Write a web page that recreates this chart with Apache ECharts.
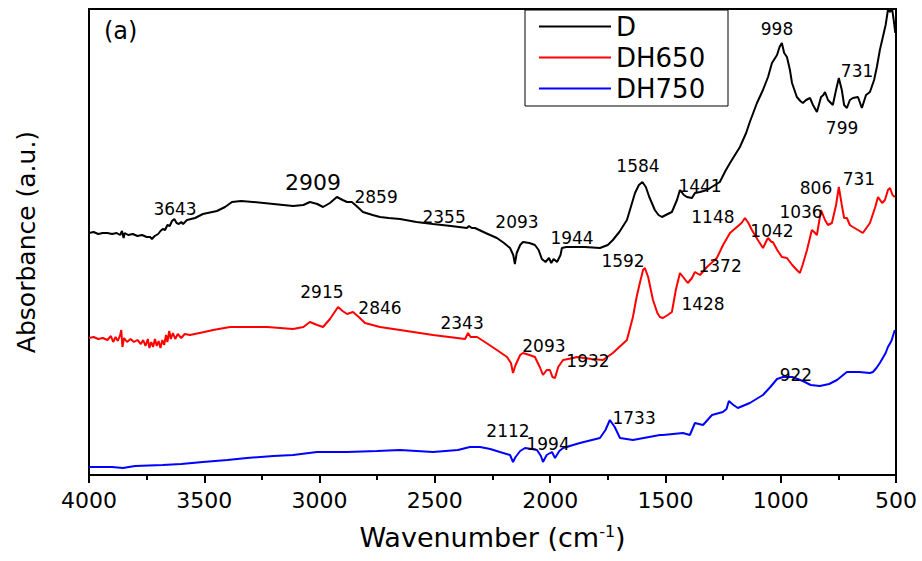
<!DOCTYPE html>
<html>
<head>
<meta charset="utf-8">
<script src="https://cdn.jsdelivr.net/npm/echarts@6/dist/echarts.min.js"></script>
<style>
  html, body { margin: 0; padding: 0; background: #fff; }
  #chart { width: 922px; height: 561px; }
</style>
</head>
<body>
<div id="chart"></div>
<script>
// FTIR spectra: [wavenumber (cm-1), absorbance (a.u.)]
const seriesNames = ['D', 'DH650', 'DH750'];
const seriesColors = ['#000000', '#ff0000', '#0000ff'];

const spectrumD = [
  [4000,2.42],[3980,2.43],[3960,2.41],[3940,2.42],[3920,2.42],[3900,2.41],[3880,2.42],[3865,2.40],
  [3857,2.44],[3850,2.37],[3845,2.42],[3830,2.40],[3810,2.41],[3790,2.39],[3770,2.40],[3750,2.38],
  [3735,2.38],[3727,2.36],[3715,2.39],[3700,2.41],[3690,2.44],[3680,2.46],[3670,2.45],[3660,2.50],
  [3650,2.49],[3640,2.54],[3630,2.56],[3620,2.52],[3610,2.51],[3600,2.53],[3592,2.51],[3575,2.55],
  [3540,2.57],[3506,2.61],[3445,2.64],[3410,2.68],[3380,2.73],[3340,2.74],[3289,2.73],[3200,2.71],
  [3115,2.69],[3070,2.70],[3042,2.73],[3010,2.71],[2985,2.68],[2955,2.72],[2925,2.78],[2900,2.75],
  [2881,2.73],[2860,2.73],[2840,2.69],[2812,2.63],[2770,2.60],[2738,2.58],[2700,2.57],[2651,2.56],
  [2580,2.53],[2508,2.51],[2430,2.49],[2361,2.47],[2352,2.49],[2340,2.47],[2326,2.47],[2280,2.42],
  [2231,2.37],[2200,2.32],[2174,2.27],[2160,2.20],[2153,2.11],[2145,2.22],[2130,2.30],[2118,2.33],
  [2090,2.32],[2066,2.30],[2050,2.25],[2036,2.16],[2020,2.13],[2005,2.17],[1995,2.12],[1985,2.16],
  [1970,2.13],[1955,2.20],[1949,2.27],[1930,2.28],[1901,2.28],[1850,2.28],[1784,2.27],[1750,2.30],
  [1728,2.35],[1700,2.43],[1667,2.55],[1650,2.68],[1632,2.82],[1615,2.90],[1600,2.93],[1585,2.88],
  [1570,2.78],[1546,2.65],[1530,2.60],[1515,2.58],[1490,2.61],[1472,2.63],[1450,2.75],[1437,2.85],
  [1420,2.80],[1407,2.78],[1385,2.77],[1372,2.82],[1350,2.83],[1320,2.85],[1264,2.93],[1240,3.04],
  [1220,3.12],[1177,3.28],[1150,3.42],[1134,3.53],[1103,3.72],[1077,3.85],[1055,3.98],[1038,4.12],
  [1016,4.20],[1005,4.28],[995,4.32],[985,4.22],[973,4.18],[960,4.05],[951,3.92],[930,3.78],
  [915,3.74],[904,3.72],[890,3.75],[873,3.77],[860,3.70],[843,3.63],[825,3.78],[815,3.80],
  [808,3.83],[795,3.75],[774,3.70],[760,3.85],[748,3.97],[735,3.85],[725,3.70],[713,3.67],
  [700,3.75],[687,3.77],[665,3.78],[648,3.67],[630,3.80],[613,3.83],[595,3.95],[583,4.08],
  [570,4.25],[557,4.38],[545,4.50],[535,4.65],[525,4.63],[518,4.68],[510,4.55],[503,4.42]
];

const spectrumDH650 = [
  [4000,1.37],[3980,1.38],[3960,1.36],[3940,1.37],[3920,1.35],[3905,1.39],[3895,1.33],[3885,1.38],
  [3875,1.34],[3865,1.40],[3860,1.45],[3855,1.28],[3848,1.37],[3835,1.33],[3820,1.36],[3805,1.33],
  [3790,1.35],[3775,1.31],[3765,1.35],[3755,1.29],[3745,1.36],[3738,1.27],[3730,1.33],[3722,1.28],
  [3714,1.36],[3706,1.29],[3698,1.34],[3690,1.27],[3682,1.35],[3674,1.30],[3666,1.40],[3660,1.33],
  [3652,1.44],[3645,1.36],[3636,1.42],[3626,1.36],[3615,1.41],[3600,1.37],[3585,1.41],[3562,1.40],
  [3500,1.43],[3462,1.45],[3388,1.48],[3300,1.48],[3228,1.48],[3115,1.46],[3070,1.48],[3042,1.53],
  [3010,1.50],[2985,1.48],[2955,1.56],[2920,1.68],[2900,1.64],[2881,1.61],[2855,1.63],[2830,1.58],
  [2803,1.52],[2738,1.48],[2651,1.45],[2508,1.40],[2369,1.36],[2356,1.42],[2345,1.38],[2317,1.38],
  [2270,1.31],[2231,1.25],[2187,1.18],[2170,1.12],[2161,1.02],[2150,1.10],[2130,1.20],[2118,1.22],
  [2090,1.20],[2066,1.18],[2045,1.08],[2031,1.00],[2015,1.05],[2001,1.05],[1990,0.98],[1979,0.97],
  [1965,1.08],[1944,1.15],[1900,1.17],[1884,1.18],[1820,1.16],[1771,1.15],[1728,1.22],[1700,1.28],
  [1667,1.35],[1641,1.58],[1625,1.78],[1611,1.92],[1597,2.05],[1589,2.07],[1575,1.98],[1554,1.75],
  [1535,1.62],[1524,1.58],[1511,1.57],[1490,1.60],[1472,1.63],[1455,1.85],[1437,2.02],[1420,1.97],
  [1403,1.92],[1385,1.97],[1372,2.03],[1350,2.00],[1320,2.08],[1277,2.17],[1250,2.30],[1220,2.42],
  [1190,2.48],[1170,2.52],[1155,2.57],[1140,2.52],[1125,2.45],[1099,2.35],[1077,2.27],[1060,2.35],
  [1055,2.37],[1040,2.33],[1034,2.33],[1015,2.25],[995,2.18],[973,2.17],[950,2.10],[930,2.05],
  [917,2.02],[905,2.10],[886,2.25],[865,2.45],[855,2.43],[843,2.40],[825,2.65],[808,2.55],
  [795,2.50],[778,2.52],[760,2.70],[748,2.88],[735,2.70],[725,2.57],[713,2.57],[700,2.50],
  [687,2.48],[665,2.45],[644,2.42],[613,2.52],[590,2.68],[578,2.78],[560,2.72],[548,2.75],
  [535,2.85],[526,2.87],[515,2.80],[505,2.78]
];

const spectrumDH750 = [
  [4000,0.08],[3900,0.08],[3853,0.07],[3800,0.09],[3680,0.10],[3600,0.11],[3506,0.13],[3400,0.15],
  [3315,0.17],[3200,0.19],[3115,0.20],[3011,0.23],[2950,0.23],[2881,0.23],[2750,0.24],[2651,0.25],
  [2508,0.23],[2400,0.25],[2348,0.28],[2304,0.28],[2260,0.26],[2218,0.23],[2174,0.20],[2161,0.13],
  [2150,0.18],[2130,0.24],[2109,0.27],[2080,0.26],[2057,0.25],[2040,0.19],[2031,0.13],[2015,0.20],
  [1992,0.23],[1979,0.17],[1960,0.24],[1944,0.27],[1871,0.32],[1784,0.37],[1760,0.45],[1741,0.55],
  [1720,0.48],[1697,0.37],[1641,0.35],[1524,0.40],[1511,0.40],[1424,0.42],[1394,0.40],[1372,0.52],
  [1337,0.50],[1298,0.60],[1251,0.63],[1235,0.66],[1225,0.74],[1205,0.70],[1186,0.67],[1134,0.72],
  [1077,0.80],[1045,0.88],[1016,0.96],[990,0.98],[950,0.98],[904,0.94],[870,0.90],[830,0.89],
  [790,0.91],[756,0.95],[713,1.03],[660,1.03],[613,1.02],[600,1.03],[585,1.07],[570,1.12],
  [555,1.18],[545,1.22],[535,1.28],[520,1.34],[505,1.45]
];

// peak annotations: [text, wavenumber position, absorbance position, font size]
const peaksD = [
  ['3643',3627,2.66,17],['2909',3029,2.93,22],['2859',2755,2.78,17],['2355',2460,2.58,17],
  ['2093',2144,2.53,17],['1944',1905,2.37,17],['1584',1619,3.09,17],['1441',1350,2.89,17],
  ['998',1016,4.46,17],['731',669,4.04,17],['799',734,3.47,17]
];
const peaksDH650 = [
  ['2915',2990,1.83,17],['2846',2738,1.67,17],['2343',2382,1.52,17],['2093',2027,1.29,17],
  ['1932',1836,1.14,17],['1592',1684,2.14,17],['1372',1263,2.09,17],['1428',1337,1.71,17],
  ['1148',1294,2.58,17],['1042',1038,2.44,17],['1036',912,2.63,17],['806',847,2.87,17],
  ['731',661,2.96,17]
];
const peaksDH750 = [
  ['2112',2183,0.44,17],['1994',2009,0.31,17],['1733',1636,0.57,17],['922',934,1.00,17]
];

const xTicks = { min: 500, max: 4000, interval: 500 };
const yRange = { min: 0, max: 4.66 };

const FONT = 'DejaVu Sans';

function peakMarks(list) {
  return {
    symbol: 'circle',
    symbolSize: 1,
    itemStyle: { color: 'rgba(0,0,0,0)' },
    silent: true,
    label: {
      show: true,
      position: 'inside',
      formatter: '{b}',
      color: '#000',
      fontFamily: FONT
    },
    data: list.map(p => ({
      name: p[0],
      coord: [p[1], p[2]],
      label: { fontSize: p[3] }
    }))
  };
}

const spectra = [spectrumD, spectrumDH650, spectrumDH750];
const peaks = [peaksD, peaksDH650, peaksDH750];

const chart = echarts.init(document.getElementById('chart'), null, { renderer: 'svg' });

chart.setOption({
  animation: false,
  backgroundColor: '#fff',
  grid: {
    left: 89, right: 26, top: 9, bottom: 86,
    show: true, borderColor: '#000', borderWidth: 2
  },
  legend: {
    orient: 'vertical',
    left: 525, top: 10,
    padding: [1, 8, 2, 14],
    itemGap: 0,
    itemWidth: 72,
    itemHeight: 2,
    icon: 'rect',
    borderColor: '#000',
    borderWidth: 1,
    backgroundColor: '#fff',
    textStyle: { fontFamily: FONT, fontSize: 26, color: '#000', lineHeight: 31, width: 104 },
    data: seriesNames
  },
  graphic: [{
    type: 'text',
    left: 104, top: 19,
    style: { text: '(a)', fontFamily: FONT, fontSize: 24, fill: '#000' }
  }],
  xAxis: {
    type: 'value',
    inverse: true,
    min: xTicks.min, max: xTicks.max, interval: xTicks.interval,
    name: 'Wavenumber (cm{sup|-1})',
    nameLocation: 'middle',
    nameGap: 48,
    nameTextStyle: {
      fontFamily: FONT, fontSize: 27, color: '#000',
      rich: { sup: { fontFamily: FONT, fontSize: 16, verticalAlign: 'top', color: '#000', padding: [0, 0, 12, 0] } }
    },
    axisLine: { show: true, lineStyle: { color: '#000', width: 2 } },
    axisTick: { show: true, inside: false, length: 8, lineStyle: { color: '#000', width: 2 } },
    minorTick: { show: true, splitNumber: 2, length: 5, lineStyle: { color: '#000', width: 2 } },
    axisLabel: {
      margin: 14, fontFamily: FONT, fontSize: 22, color: '#000',
      formatter: v => String(v)
    },
    splitLine: { show: false }
  },
  yAxis: {
    type: 'value',
    min: yRange.min, max: yRange.max,
    name: 'Absorbance (a.u.)',
    nameLocation: 'middle',
    nameGap: 50,
    nameTextStyle: { fontFamily: FONT, fontSize: 25, color: '#000' },
    axisLine: { show: true, lineStyle: { color: '#000', width: 2 } },
    axisTick: { show: false },
    axisLabel: { show: false },
    splitLine: { show: false }
  },
  series: spectra.map((data, i) => ({
    name: seriesNames[i],
    type: 'line',
    data: data,
    symbol: 'none',
    clip: true,
    lineStyle: { color: seriesColors[i], width: 2 },
    itemStyle: { color: seriesColors[i] },
    markPoint: peakMarks(peaks[i])
  }))
});
</script>
</body>
</html>
